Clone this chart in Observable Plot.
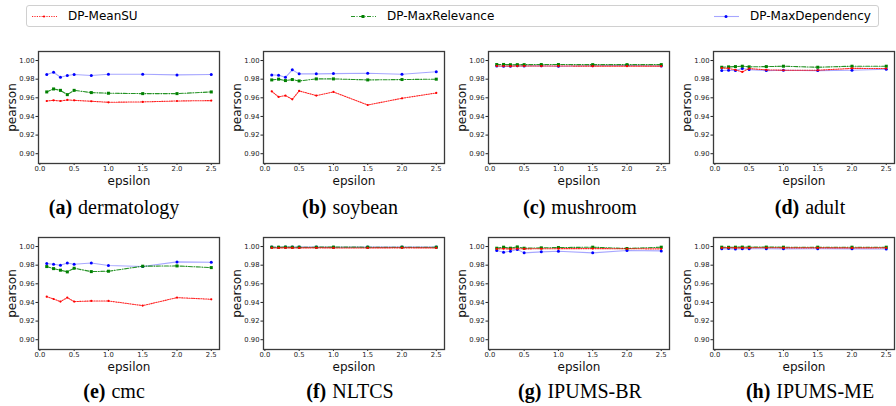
<!DOCTYPE html>
<html>
<head>
<meta charset="utf-8">
<script src="https://cdn.jsdelivr.net/npm/d3@7"></script>
<script src="https://cdn.jsdelivr.net/npm/@observablehq/plot@0.6"></script>
<style>
  html, body { margin: 0; padding: 0; background: #fff; }
  #root { position: relative; width: 896px; height: 406px; overflow: hidden; font-family: "DejaVu Sans", sans-serif; }
  .panel { position: absolute; }
  .cap { position: absolute; font-family: "Liberation Serif", serif; font-size: 20px; color: #000; white-space: nowrap; transform: translateX(-50%); }
  .cap b { font-weight: bold; margin-right: 6px; }
  #legend { position: absolute; left: 26px; top: 5px; width: 853px; height: 22px; border: 1px solid #d0d0d0; border-radius: 3px; box-sizing: border-box; }
  .lg { position: absolute; top: 0; height: 20px; display: flex; align-items: center; font-size: 12px; color: #000; }
  .lg svg { margin-right: 11px; }
</style>
</head>
<body>
<div id="root">
  <div id="legend"></div>
</div>
<script>
const eps = [0.1, 0.2, 0.3, 0.4, 0.5, 0.75, 1.0, 1.5, 2.0, 2.5];
const seriesNames = ["DP-MeanSU", "DP-MaxRelevance", "DP-MaxDependency"];
const datasetNames = ["dermatology", "soybean", "mushroom", "adult", "cmc", "NLTCS", "IPUMS-BR", "IPUMS-ME"];
const panelLetters = ["(a)", "(b)", "(c)", "(d)", "(e)", "(f)", "(g)", "(h)"];
const yTicks = [0.90, 0.92, 0.94, 0.96, 0.98, 1.00];
const xTicks = [0.0, 0.5, 1.0, 1.5, 2.0, 2.5];

const dermatologyMeanSU = [0.9566, 0.9573, 0.9566, 0.9577, 0.9573, 0.9563, 0.9552, 0.9556, 0.9566, 0.9570];
const dermatologyMaxRel = [0.9663, 0.9695, 0.9680, 0.9634, 0.9680, 0.9656, 0.9649, 0.9645, 0.9645, 0.9663];
const dermatologyMaxDep = [0.9850, 0.9875, 0.9820, 0.9840, 0.9850, 0.9840, 0.9853, 0.9853, 0.9846, 0.9850];

const soybeanMeanSU = [0.9670, 0.9610, 0.9624, 0.9584, 0.9674, 0.9624, 0.9663, 0.9523, 0.9595, 0.9652];
const soybeanMaxRel = [0.9792, 0.9800, 0.9785, 0.9796, 0.9781, 0.9803, 0.9803, 0.9792, 0.9796, 0.9800];
const soybeanMaxDep = [0.9846, 0.9842, 0.9820, 0.9900, 0.9857, 0.9857, 0.9860, 0.9864, 0.9853, 0.9880];

const mushroomMeanSU = [0.9942, 0.9941, 0.9940, 0.9941, 0.9942, 0.9941, 0.9941, 0.9940, 0.9940, 0.9940];
const mushroomMaxRel = [0.9957, 0.9958, 0.9955, 0.9956, 0.9956, 0.9957, 0.9957, 0.9956, 0.9956, 0.9956];
const mushroomMaxDep = [0.9942, 0.9939, 0.9940, 0.9944, 0.9942, 0.9944, 0.9938, 0.9944, 0.9946, 0.9942];

const adultMeanSU = [0.9920, 0.9916, 0.9900, 0.9878, 0.9914, 0.9900, 0.9896, 0.9896, 0.9916, 0.9914];
const adultMaxRel = [0.9928, 0.9932, 0.9935, 0.9939, 0.9932, 0.9935, 0.9939, 0.9928, 0.9939, 0.9939];
const adultMaxDep = [0.9892, 0.9896, 0.9892, 0.9914, 0.9903, 0.9892, 0.9896, 0.9892, 0.9896, 0.9907];

const cmcMeanSU = [0.9462, 0.9437, 0.9409, 0.9452, 0.9409, 0.9416, 0.9416, 0.9366, 0.9452, 0.9434];
const cmcMaxRel = [0.9785, 0.9763, 0.9746, 0.9728, 0.9767, 0.9731, 0.9735, 0.9789, 0.9792, 0.9774];
const cmcMaxDep = [0.9817, 0.9810, 0.9800, 0.9824, 0.9810, 0.9824, 0.9796, 0.9785, 0.9835, 0.9832];

const nltcsMeanSU = [0.9985, 0.9985, 0.9986, 0.9985, 0.9985, 0.9986, 0.9985, 0.9985, 0.9986, 0.9985];
const nltcsMaxRel = [0.9993, 0.9993, 0.9994, 0.9993, 0.9993, 0.9993, 0.9994, 0.9993, 0.9993, 0.9993];
const nltcsMaxDep = [0.9994, 0.9993, 0.9994, 0.9994, 0.9994, 0.9994, 0.9993, 0.9994, 0.9994, 0.9994];

const ipumsbrMeanSU = [0.9975, 0.9976, 0.9974, 0.9977, 0.9975, 0.9976, 0.9977, 0.9978, 0.9976, 0.9975];
const ipumsbrMaxRel = [0.9982, 0.9993, 0.9982, 0.9996, 0.9982, 0.9986, 0.9989, 0.9993, 0.9979, 0.9993];
const ipumsbrMaxDep = [0.9957, 0.9939, 0.9950, 0.9968, 0.9932, 0.9943, 0.9950, 0.9932, 0.9957, 0.9953];

const ipumsmeMeanSU = [0.9986, 0.9987, 0.9985, 0.9986, 0.9986, 0.9987, 0.9986, 0.9986, 0.9985, 0.9986];
const ipumsmeMaxRel = [0.9993, 0.9992, 0.9993, 0.9994, 0.9993, 0.9994, 0.9993, 0.9993, 0.9993, 0.9993];
const ipumsmeMaxDep = [0.9975, 0.9978, 0.9974, 0.9975, 0.9977, 0.9976, 0.9975, 0.9977, 0.9975, 0.9974];

const panels = [
  [dermatologyMeanSU, dermatologyMaxRel, dermatologyMaxDep],
  [soybeanMeanSU, soybeanMaxRel, soybeanMaxDep],
  [mushroomMeanSU, mushroomMaxRel, mushroomMaxDep],
  [adultMeanSU, adultMaxRel, adultMaxDep],
  [cmcMeanSU, cmcMaxRel, cmcMaxDep],
  [nltcsMeanSU, nltcsMaxRel, nltcsMaxDep],
  [ipumsbrMeanSU, ipumsbrMaxRel, ipumsbrMaxDep],
  [ipumsmeMeanSU, ipumsmeMaxRel, ipumsmeMaxDep]
];

const RED = "#ff0000", GREEN = "#008000", BLUE = "#0000ff";
const colLeft = [0, 225, 450, 675];
const rowTop = [41, 227];
const capX = [114, 350, 580, 810];
const capTop = [196, 380];

const root = document.getElementById("root");

panels.forEach((series, i) => {
  const col = i % 4, row = Math.floor(i / 4);
  const rows = (k) => eps.map((e, j) => ({x: e, y: series[k][j]}));
  const red = rows(0), green = rows(1), blue = rows(2);
  const plot = Plot.plot({
    width: 224,
    height: 152,
    marginLeft: 38,
    marginRight: 5,
    marginTop: 10,
    marginBottom: 30,
    x: {domain: [-0.02, 2.62]},
    y: {domain: [0.8895, 1.0097]},
    style: {fontFamily: "DejaVu Sans, sans-serif", background: "transparent"},
    marks: [
      Plot.axisY({ticks: yTicks, tickFormat: d3.format(".2f"), tickSize: 2.5, tickPadding: 1.5, fontSize: 6.8, label: null, stroke: "#222", fill: "#222"}),
      Plot.axisX({ticks: xTicks, tickFormat: d3.format(".1f"), tickSize: 2, tickPadding: 1, fontSize: 6.8, label: null, stroke: "#222", fill: "#222"}),
      Plot.line(blue, {x: "x", y: "y", stroke: BLUE, strokeOpacity: 0.35, strokeWidth: 1.1}),
      Plot.dot(blue, {x: "x", y: "y", fill: BLUE, r: 1.5}),
      Plot.line(green, {x: "x", y: "y", stroke: GREEN, strokeWidth: 1.1, strokeDasharray: "4,1.5,1,1.5", strokeOpacity: 0.85}),
      Plot.dot(green, {x: "x", y: "y", fill: GREEN, symbol: "square", r: 1.7}),
      Plot.line(red, {x: "x", y: "y", stroke: RED, strokeWidth: 1.1, strokeDasharray: "1.2,1.2", strokeOpacity: 0.85}),
      Plot.dot(red, {x: "x", y: "y", fill: RED, r: 1.1}),
      Plot.frame({stroke: "#3a3a3a", strokeWidth: 1.3}),
      Plot.text(["pearson"], {frameAnchor: "left", dx: -26, rotate: -90, fontSize: 12, fill: "#111", textAnchor: "middle", lineAnchor: "middle"}),
      Plot.text(["epsilon"], {frameAnchor: "bottom", dy: 17.5, fontSize: 12, fill: "#111", textAnchor: "middle", lineAnchor: "middle"})
    ]
  });
  plot.classList.add("panel");
  plot.style.left = colLeft[col] + "px";
  plot.style.top = rowTop[row] + "px";
  root.appendChild(plot);

  const cap = document.createElement("div");
  cap.className = "cap";
  cap.style.left = capX[col] + "px";
  cap.style.top = capTop[row] + "px";
  cap.innerHTML = "<b>" + panelLetters[i] + "</b>" + datasetNames[i];
  root.appendChild(cap);
});

// Legend
const legend = document.getElementById("legend");
const legendX = [5, 324, 687];
const legendStyles = [
  {color: RED, dash: "1.2,1.2", op: 0.85, sym: "dot"},
  {color: GREEN, dash: "4,1.5,1,1.5", op: 0.85, sym: "square"},
  {color: BLUE, dash: null, op: 0.35, sym: "dot"}
];
seriesNames.forEach((name, k) => {
  const s = legendStyles[k];
  const item = document.createElement("div");
  item.className = "lg";
  item.style.left = legendX[k] + "px";
  const marker = s.sym === "square"
    ? `<rect x="10.5" y="4" width="3" height="3" fill="${s.color}"/>`
    : `<circle cx="12" cy="5.5" r="${k === 0 ? 1.1 : 1.5}" fill="${s.color}"/>`;
  item.innerHTML = `<svg width="25" height="11"><line x1="0" x2="25" y1="5.5" y2="5.5" stroke="${s.color}" stroke-width="1.1" stroke-opacity="${s.op}" ${s.dash ? `stroke-dasharray="${s.dash}"` : ""}/>${marker}</svg><span>${name}</span>`;
  legend.appendChild(item);
});
</script>
</body>
</html>
